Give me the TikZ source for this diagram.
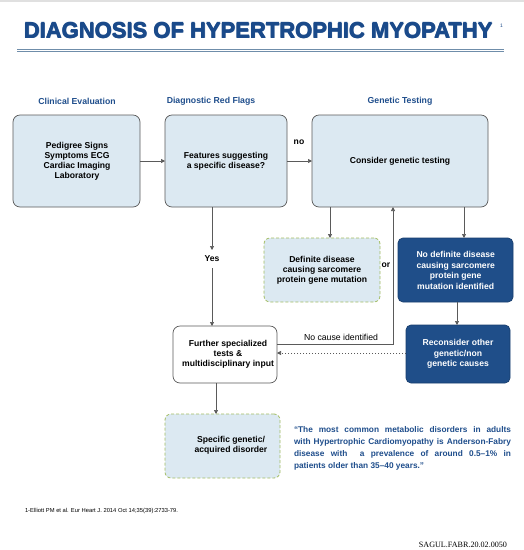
\documentclass[tikz,border=0pt]{standalone}
\usepackage{fontspec}
\setmainfont{Liberation Sans}
\newfontfamily\refserif{Liberation Serif}
\usetikzlibrary{arrows.meta}
\definecolor{titleblue}{HTML}{1A4A8A}
\definecolor{headblue}{HTML}{1F4E8C}
\definecolor{boxfill}{HTML}{DCE9F2}
\definecolor{darkbox}{HTML}{1F4E89}
\definecolor{greendash}{HTML}{A3BD62}
\definecolor{linegray}{HTML}{5A5A5A}
\definecolor{rulecol}{HTML}{6F8DAA}
\begin{document}
\begin{tikzpicture}[x=1pt,y=-1pt,
  every node/.style={inner sep=0pt,outer sep=0pt},
  box/.style={draw=linegray,line width=0.7pt,rounded corners=7pt,fill=boxfill},
  whitebox/.style={draw=linegray,line width=0.7pt,rounded corners=7pt,fill=white},
  dashbox/.style={draw=greendash,line width=0.8pt,dash pattern=on 3pt off 2pt,rounded corners=6pt,fill=boxfill},
  darkboxs/.style={draw=darkbox!80!black,line width=0.7pt,rounded corners=5pt,fill=darkbox},
  btxt/.style={font=\fontsize{8.6}{10}\selectfont\bfseries,align=center},
  wtxt/.style={font=\fontsize{8.6}{10.4}\selectfont\bfseries,align=center,text=white},
  head/.style={font=\fontsize{8.7}{10}\selectfont\bfseries,text=headblue},
  conn/.style={draw=linegray,line width=0.7pt,-{Triangle[length=4pt,width=4pt]}},
  ttl/.style={anchor=base west,font=\fontsize{22}{24}\selectfont\bfseries,text=titleblue},
]
\useasboundingbox (0,0) rectangle (524,550);
\fill[white] (0,0) rectangle (524,550);
\fill[black!12] (0,0) rectangle (524,1.5);
% title (drawn several times to thicken the strokes)
\node[ttl,text=titleblue!45] (titles) at (24.6,38.6) {DIAGNOSIS OF HYPERTROPHIC MYOPATHY};
\node[ttl] (title1) at (23.6,38) {DIAGNOSIS OF HYPERTROPHIC MYOPATHY};
\node[ttl] (title2) at (24.2,38) {DIAGNOSIS OF HYPERTROPHIC MYOPATHY};
\node[ttl] (title3) at (23.9,37.6) {DIAGNOSIS OF HYPERTROPHIC MYOPATHY};
\node[anchor=base west,font=\fontsize{5}{6}\selectfont,text=titleblue] (sup) at (500,27) {1};
\draw[rulecol,line width=0.7pt] (17,49) -- (504,49);
\draw[rulecol,line width=0.7pt] (17,51.5) -- (504,51.5);
% headers
\node[head] (h1) at (77,101) {Clinical Evaluation};
\node[head] (h2) at (211,101) {Diagnostic Red Flags};
\node[head] (h3) at (400,101) {Genetic Testing};
% boxes
\node[box,minimum width=127pt,minimum height=92pt] (b1) at (76.5,161) {};
\node[btxt] (b1t) at (77,161) {Pedigree Signs\\Symptoms ECG\\Cardiac Imaging\\Laboratory};
\node[box,minimum width=122pt,minimum height=92pt] (b2) at (226,161) {};
\node[btxt] (b2t) at (226,161) {Features suggesting\\a specific disease?};
\node[box,minimum width=176pt,minimum height=92pt] (b3) at (400,161) {};
\node[btxt] (b3t) at (400,161) {Consider genetic testing};
\node[dashbox,minimum width=116pt,minimum height=64pt] (def) at (322,270) {};
\node[btxt] (deft) at (322,270) {Definite disease\\causing sarcomere\\protein gene mutation};
\node[darkboxs,minimum width=115pt,minimum height=64pt] (nodef) at (455.5,270) {};
\node[wtxt] (nodeft) at (455.7,270.5) {No definite disease\\causing sarcomere\\protein gene\\mutation identified};
\node[whitebox,minimum width=104pt,minimum height=57pt] (fur) at (225,354.5) {};
\node[btxt] (furt) at (228,354) {Further specialized\\tests \&\\multidisciplinary input};
\node[darkboxs,minimum width=104pt,minimum height=58pt] (rec) at (458,354) {};
\node[wtxt] (rect) at (458,354) {Reconsider other\\genetic/non\\genetic causes};
\node[dashbox,minimum width=115pt,minimum height=64pt] (spec) at (222.5,446) {};
\node[btxt] (spect) at (231,445) {Specific genetic/\\acquired disorder};
% labels
\node[btxt] (no) at (299,142) {no};
\node[btxt] (yes) at (212,259) {Yes};
\node[btxt] (or) at (386,265) {or};
\node[font=\fontsize{8.7}{10}\selectfont] (nci) at (341,337) {No cause identified};
% connectors
\coordinate (xa) at (330,0);
\coordinate (xb) at (464,0);
\coordinate (xc) at (457,0);
\coordinate (xd) at (393,0);
\coordinate (xe) at (216,0);
\coordinate (ya) at (0,344);
\coordinate (yb) at (0,353);
\draw[conn] (b1.east) -- (b2.west);
\draw[conn] (b2.east) -- (b3.west);
\draw[conn] (yes |- b2.south) -- ([yshift=6pt]yes.north);
\draw[conn] ([yshift=-6pt]yes.south) -- (yes |- fur.north);
\draw[conn] (xa |- b3.south) -- (xa |- def.north);
\draw[conn] (xb |- b3.south) -- (xb |- nodef.north);
\draw[conn] (xc |- nodef.south) -- (xc |- rec.north);
\draw[conn] (fur.east |- ya) -- (xd |- ya) -- (xd |- b3.south);
\draw[conn,dash pattern=on 1.5pt off 1.5pt] (rec.west |- yb) -- (fur.east |- yb);
\draw[conn] (xe |- fur.south) -- (xe |- spec.north);
% quote
\node[anchor=north west,text width=217pt,align=justify,text=headblue,font=\fontsize{8.3}{12}\selectfont\bfseries] (quote) at (294,426.5) {“The most common metabolic disorders in adults\linebreak with Hypertrophic Cardiomyopathy is Anderson-Fabry\linebreak disease with\ \ a prevalence of around 0.5–1\% in\linebreak patients older than 35–40 years.”};
% footnotes
\node[anchor=base west,font=\fontsize{5.8}{7}\selectfont] (ref) at (25,512) {1-Elliott PM et al. Eur Heart J. 2014 Oct 14;35(39):2733-79.};
\node[anchor=base east,font=\refserif\fontsize{8.1}{9}\selectfont] (code) at (507,547) {SAGUL.FABR.20.02.0050};
\end{tikzpicture}
\end{document}
